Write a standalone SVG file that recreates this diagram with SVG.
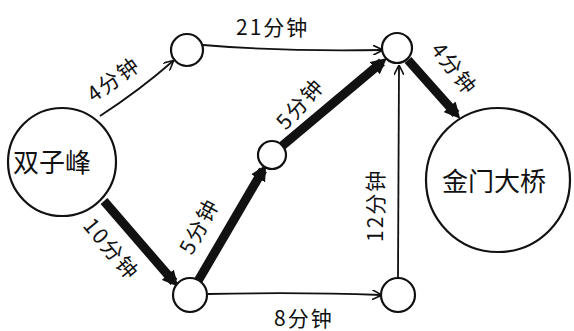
<svg xmlns="http://www.w3.org/2000/svg" width="574" height="331" viewBox="0 0 574 331">
<style>
.n{fill:#fff;stroke:#111;stroke-width:2.2}
.t{fill:none;stroke:#111;stroke-width:1.8}
.k{fill:none;stroke:#111;stroke-width:9}
.lb{font-family:"Noto Sans CJK SC","Noto Sans",sans-serif;font-size:21px;letter-spacing:2px;fill:#111}
.nl{font-family:"Noto Sans CJK SC","Noto Sans",sans-serif;font-size:26px;fill:#111}
</style>
<defs>
<marker id="v" viewBox="0 0 10 10" refX="9" refY="5" markerWidth="10" markerHeight="10" markerUnits="userSpaceOnUse" orient="auto"><path d="M0,0 L10,5 L0,10" fill="none" stroke="#111" stroke-width="1.6"/></marker>
<marker id="f" viewBox="0 0 10 10" refX="6" refY="5" markerWidth="16" markerHeight="16" markerUnits="userSpaceOnUse" orient="auto"><path d="M0,0 L10,5 L0,10 Z" fill="#111"/></marker>
</defs>
<rect width="574" height="331" fill="#fff"/>
<g id="edges">
<path class="t" d="M100,116 Q140,90 173,61" marker-end="url(#v)"/>
<path class="t" d="M203,45 Q290,52 382,50" marker-end="url(#v)"/>
<path class="k" d="M104,201 L174,282" marker-end="url(#f)"/>
<path class="k" d="M198,281 L263,170" marker-end="url(#f)"/>
<path class="k" d="M282,146 L382,62" marker-end="url(#f)"/>
<path class="k" d="M408,60 L456,114" marker-end="url(#f)"/>
<path class="t" d="M208,294 Q300,292 381,295" marker-end="url(#v)"/>
<path class="t" d="M398,278 L399,66" marker-end="url(#v)"/>
</g>
<g id="labels">
<text class="lb" transform="translate(94,103) rotate(-36)">4分钟</text>
<text class="lb" x="236" y="35">21分钟</text>
<text class="lb" transform="translate(82,226) rotate(50)">10分钟</text>
<text class="lb" transform="translate(192,256) rotate(-62)">5分钟</text>
<text class="lb" transform="translate(286,131) rotate(-48)">5分钟</text>
<text class="lb" transform="translate(430,50) rotate(52)">4分钟</text>
<text class="lb" x="274" y="326">8分钟</text>
<text class="lb" transform="translate(383,242) rotate(-90)">12分钟</text>
</g>
<g id="n-shuangzifeng"><circle class="n" cx="62" cy="162" r="54"/><text class="nl" x="13" y="172">双子峰</text></g>
<g id="n-a"><circle class="n" cx="187" cy="50" r="16"/></g>
<g id="n-b"><circle class="n" cx="397" cy="48" r="15"/></g>
<g id="n-c"><circle class="n" cx="272" cy="155" r="14"/></g>
<g id="n-d"><circle class="n" cx="190" cy="295" r="17"/></g>
<g id="n-e"><circle class="n" cx="398" cy="295" r="17"/></g>
<g id="n-jinmen"><circle class="n" cx="498" cy="180" r="72"/><text class="nl" x="442" y="191">金门大桥</text></g>
</svg>
